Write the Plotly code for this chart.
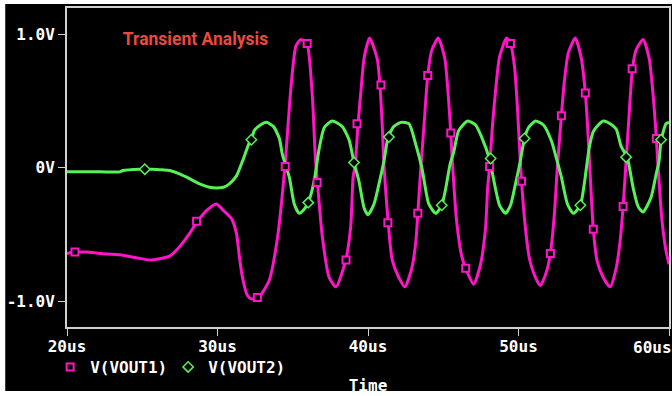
import plotly.graph_objects as go

# ---- data (time in microseconds, voltage in volts) ----
t_vout1 = [20.00, 20.53, 21.32, 22.19, 23.51, 24.50, 25.50, 26.16, 26.82, 27.48, 28.15, 28.61, 29.27, 29.93, 30.40, 30.93, 31.26, 31.46, 31.66, 31.99, 32.25, 32.65,
           33.44, 33.99, 34.48, 34.88, 35.21, 35.54, 35.94, 36.31, 36.49, 36.64, 36.97, 37.42, 37.88,
           38.52, 38.85, 39.01, 39.14, 39.34, 39.52, 39.74, 40.11, 40.62, 40.79, 40.95, 41.06, 41.34, 41.61, 42.05, 42.45,
           42.91, 43.18, 43.31, 43.51, 43.71, 43.97, 44.24, 44.67, 45.10, 45.36, 45.50, 45.63, 45.89, 46.23, 46.49, 47.02,
           47.48, 47.81, 47.95, 48.08, 48.28, 48.48, 48.74, 49.21, 49.47, 49.74, 49.93, 50.07, 50.20, 50.46, 50.73, 51.13, 51.46,
           51.85, 52.12, 52.38, 52.58, 52.85, 53.05, 53.31, 53.77, 54.17, 54.44, 54.57, 54.74, 54.97, 55.23, 55.63, 56.09,
           56.49, 56.75, 56.95, 57.15, 57.35, 57.57, 57.81, 58.28, 58.68, 58.94, 59.16, 59.27, 59.54, 59.80, 60.00]
v_vout1 = [-0.64, -0.63, -0.63, -0.64, -0.65, -0.67, -0.69, -0.68, -0.66, -0.59, -0.49, -0.41, -0.32, -0.27, -0.32, -0.38, -0.49, -0.67, -0.82, -0.955, -0.98, -0.98,
           -0.84, -0.52, 0.01, 0.60, 0.91, 0.96, 0.93, 0.52, 0.10, -0.11, -0.52, -0.82, -0.89,
           -0.69, -0.44, -0.07, 0.015, 0.33, 0.56, 0.82, 0.97, 0.81, 0.62, 0.31, 0.015, -0.41, -0.69, -0.82, -0.89,
           -0.75, -0.55, -0.34, 0.0, 0.30, 0.69, 0.88, 0.97, 0.82, 0.50, 0.26, 0.0, -0.40, -0.66, -0.75, -0.87,
           -0.72, -0.45, -0.15, 0.01, 0.33, 0.58, 0.83, 0.97, 0.93, 0.75, 0.45, 0.15, -0.10, -0.45, -0.68, -0.82, -0.88,
           -0.78, -0.64, -0.35, 0.0, 0.39, 0.65, 0.86, 0.97, 0.82, 0.56, 0.35, 0.0, -0.46, -0.70, -0.82, -0.89,
           -0.75, -0.55, -0.29, 0.05, 0.40, 0.74, 0.88, 0.96, 0.82, 0.55, 0.22, 0.015, -0.40, -0.62, -0.72]

t_vout2 = [20.00, 22.19, 23.51, 23.71, 24.83, 25.17, 25.70, 26.36, 26.82, 27.48, 27.95, 28.81, 29.47, 29.93, 30.40, 30.79, 31.26, 31.66, 32.12, 32.25, 32.45, 32.85, 33.25, 33.71, 34.11, 34.31, 34.77, 35.10, 35.43,
           35.76, 36.03, 36.42, 36.75, 37.09, 37.62, 38.28, 38.74, 39.07, 39.40, 39.74, 40.00, 40.40, 40.73, 41.06, 41.34, 41.72, 42.19, 42.72, 43.16, 43.58, 44.04, 44.50,
           44.90, 45.17, 45.46, 45.70, 46.03, 46.62, 47.15, 47.55, 48.06, 48.46, 48.74, 49.14, 49.47, 49.80, 50.07, 50.40, 50.66, 51.13, 51.66, 52.19, 52.52, 52.85, 53.25, 53.64,
           54.11, 54.37, 54.70, 54.97, 55.30, 55.63, 56.09, 56.49, 56.82, 57.22, 57.62, 57.95, 58.28, 58.81, 59.14, 59.34, 59.47, 59.80, 60.00]
v_vout2 = [-0.03, -0.03, -0.03, -0.02, -0.01, -0.01, -0.01, -0.015, -0.02, -0.045, -0.07, -0.12, -0.145, -0.15, -0.145, -0.12, -0.06, 0.05, 0.19, 0.21, 0.28, 0.32, 0.34, 0.31, 0.22, 0.10, -0.07, -0.27, -0.34,
           -0.31, -0.26, -0.10, 0.14, 0.30, 0.35, 0.31, 0.21, 0.04, -0.10, -0.30, -0.35, -0.27, -0.12, 0.05, 0.23, 0.31, 0.34, 0.33, 0.18, 0.0, -0.27, -0.34,
           -0.28, -0.15, 0.03, 0.12, 0.28, 0.35, 0.32, 0.23, 0.07, -0.15, -0.28, -0.34, -0.28, -0.12, 0.02, 0.22, 0.30, 0.35, 0.32, 0.20, 0.07, -0.07, -0.27, -0.34,
           -0.28, -0.12, 0.15, 0.27, 0.32, 0.35, 0.33, 0.29, 0.16, 0.08, -0.15, -0.29, -0.33, -0.22, -0.05, 0.05, 0.20, 0.33, 0.34]

# marker positions (symbols placed on the traces)
t_mark1 = [20.53, 28.61, 32.65, 34.50, 35.96, 36.62, 38.54, 39.27, 40.86, 41.32, 43.31, 43.97, 45.50, 46.49, 48.08, 49.47, 50.20, 52.12, 52.85, 54.44, 54.97, 56.95, 57.55, 59.16]
v_mark1 = [-0.63, -0.40, -0.97, 0.01, 0.93, -0.11, -0.69, 0.33, 0.62, -0.41, -0.34, 0.69, 0.26, -0.75, 0.01, 0.93, -0.10, -0.64, 0.39, 0.56, -0.46, -0.29, 0.74, 0.22]
t_mark2 = [25.17, 32.25, 36.03, 39.07, 41.39, 44.90, 48.15, 50.40, 54.11, 57.15, 59.47]
v_mark2 = [-0.01, 0.21, -0.26, 0.04, 0.23, -0.28, 0.07, 0.22, -0.28, 0.08, 0.21]

x_tickvals = [20, 30, 40, 50, 60]
x_ticktext = ["20us", "30us", "40us", "50us", ""]
y_tickvals = [-1, 0, 1]
y_ticktext = ["-1.0V", "0V", "1.0V"]

MAG = "#ff14c8"
GRN = "#58f058"
AXC = "#d0d0d0"
MONO = dict(family="DejaVu Sans Mono", size=16, color="white", weight="bold")

fig = go.Figure()
fig.add_trace(go.Scatter(x=t_vout1, y=v_vout1, mode="lines", showlegend=False, hoverinfo="skip",
                         line=dict(color=MAG, width=3, shape="spline", smoothing=0.6)))
fig.add_trace(go.Scatter(x=t_vout2, y=v_vout2, mode="lines", showlegend=False, hoverinfo="skip",
                         line=dict(color=GRN, width=3, shape="spline", smoothing=0.6)))
fig.add_trace(go.Scatter(x=t_mark1, y=v_mark1, mode="markers", name="V(VOUT1)",
                         marker=dict(symbol="square", size=7, color="black", line=dict(color=MAG, width=2))))
fig.add_trace(go.Scatter(x=t_mark2, y=v_mark2, mode="markers", name="V(VOUT2)",
                         marker=dict(symbol="diamond", size=8, color="black", line=dict(color=GRN, width=1.5))))

fig.update_layout(
    width=672, height=396,
    margin=dict(l=67, r=1, t=8, b=69),
    paper_bgcolor="white", plot_bgcolor="black",
    title=dict(text="Transient Analysis", x=0.0927, xref="paper", xanchor="left",
               y=1 - 39 / 396, yref="container", yanchor="middle",
               font=dict(family="Roboto", size=17.5, color="#e84a40", weight="bold")),
    shapes=[dict(type="rect", xref="paper", yref="paper", x0=-0.1026, x1=1.01, y0=-0.2006, y1=1.0125,
                 fillcolor="black", line=dict(width=0), layer="below")],
    legend=dict(orientation="h", x=-0.028, xanchor="left", y=-0.1254, yanchor="middle",
                font=MONO, bgcolor="rgba(0,0,0,0)", itemclick=False,
                entrywidth=73, entrywidthmode="pixels"),
    annotations=[dict(text="60us", x=60, xref="x", xanchor="right", xshift=5, y=-0.0627, yref="paper",
                      yanchor="middle", showarrow=False, font=MONO)],
)
fig.update_xaxes(range=[20, 60], tickvals=x_tickvals, ticktext=x_ticktext, ticks="outside", ticklen=7,
                 tickcolor=AXC, tickwidth=1, showline=True, linecolor=AXC, linewidth=2, mirror=True,
                 showgrid=False, zeroline=False, tickfont=MONO, ticklabelstandoff=-3,
                 title=dict(text="Time", font=MONO, standoff=25))
fig.update_yaxes(range=[-1.19, 1.195], tickvals=y_tickvals, ticktext=y_ticktext, ticks="outside", ticklen=7,
                 tickcolor=AXC, tickwidth=1, showline=True, linecolor=AXC, linewidth=2, mirror=True,
                 showgrid=False, zeroline=False, tickfont=MONO)

fig.write_html("out.html")
